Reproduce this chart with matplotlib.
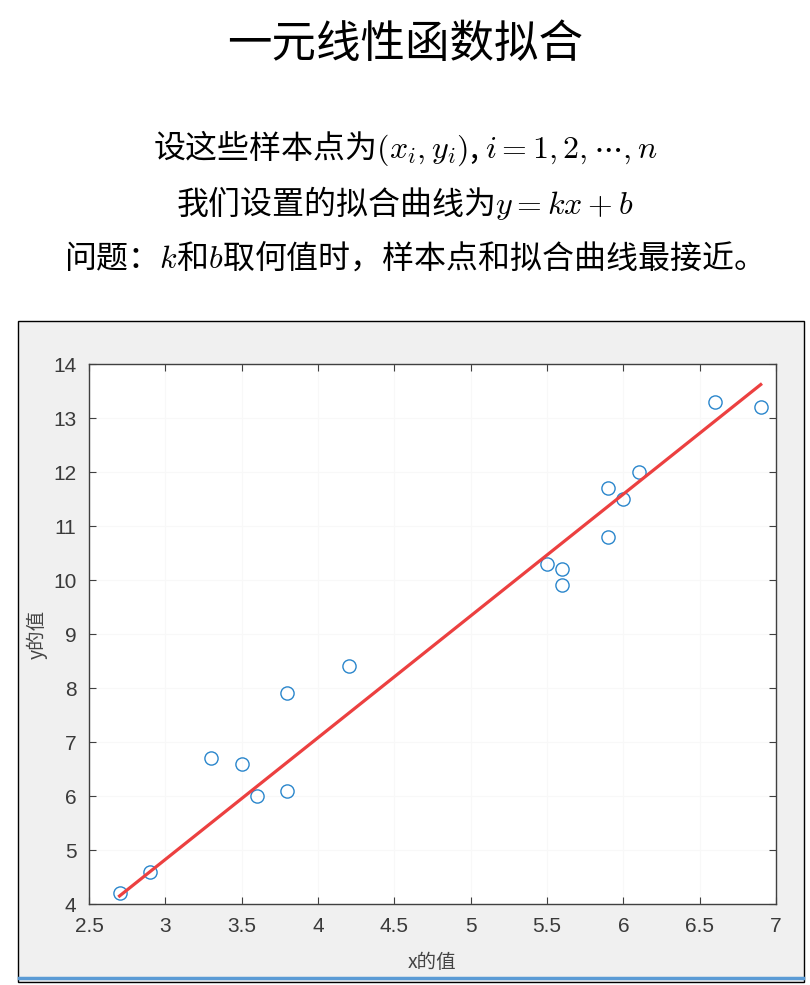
import numpy as np
import matplotlib.pyplot as plt
from matplotlib.patches import Rectangle
from matplotlib.lines import Line2D

plt.rcParams['font.family'] = ['Noto Sans CJK SC', 'DejaVu Sans']
plt.rcParams['mathtext.fontset'] = 'cm'

# 样本点
x = [2.7, 2.9, 3.3, 3.5, 3.6, 3.8, 3.8, 4.2, 5.5, 5.6, 5.6, 5.9, 5.9, 6.0, 6.1, 6.6, 6.9]
y = [4.2, 4.6, 6.7, 6.6, 6.0, 7.9, 6.1, 8.4, 10.3, 10.2, 9.9, 11.7, 10.8, 11.5, 12.0, 13.3, 13.2]
# 拟合直线 y = kx + b
k = 2.255
b = -1.94
xticks = [2.5, 3, 3.5, 4, 4.5, 5, 5.5, 6, 6.5, 7]
yticks = [4, 5, 6, 7, 8, 9, 10, 11, 12, 13, 14]

fig = plt.figure(figsize=(8.1, 9.85), dpi=100)

# 标题和说明文字
fig.text(0.5, 0.955, '一元线性函数拟合', ha='center', va='center', fontsize=32)
fig.text(0.5, 0.850, r'设这些样本点为$(x_i,y_i)$, $i=1,2,\cdots,n$',
         ha='center', va='center', fontsize=23)
fig.text(0.5, 0.794, r'我们设置的拟合曲线为$y=kx+b$',
         ha='center', va='center', fontsize=23)
fig.text(0.5, 0.739, r'问题：$k$和$b$取何值时，样本点和拟合曲线最接近。',
         ha='center', va='center', fontsize=23)

# 灰色的图窗背景
fig.patches.append(Rectangle((18/810, 1-982/985), 786/810, 661/985,
                             transform=fig.transFigure, facecolor='#f0f0f0',
                             edgecolor='black', lw=1.0, zorder=-2))
fig.lines.append(Line2D([19/810, 803/810], [1-978/985, 1-978/985],
                        transform=fig.transFigure, color='#5a9bd5', lw=2.5,
                        zorder=-1))

ax = fig.add_axes([89/810, 1-904/985, 687/810, 540/985])
ax.set_zorder(1)
ax.set_facecolor('white')

ax.plot(x, y, 'o', mfc='none', mec='#2a86cc', ms=9.5, mew=1.0, zorder=3)

xf = np.array([min(x), max(x)])
ax.plot(xf, k*xf + b, color='#ec4040', lw=2.3, zorder=4)

ax.set_xlim(2.5, 7)
ax.set_ylim(4, 14)
ax.set_xticks(xticks)
ax.set_xticklabels([f'{t:g}' for t in xticks], family='Liberation Sans')
ax.set_yticks(yticks)
ax.set_yticklabels([f'{t:g}' for t in yticks], family='Liberation Sans')
ax.grid(True, color='#f8f8f8', lw=0.8, zorder=0)
ax.set_axisbelow(True)

ax.tick_params(direction='in', top=True, right=True, length=5, width=0.8,
               labelsize=15, labelcolor='#3a3a3a', color='#404040', pad=9)
for s in ax.spines.values():
    s.set_color('#404040')
    s.set_linewidth(1.0)

ax.set_xlabel('x的值', fontsize=14, color='#444444', labelpad=12)
ax.set_ylabel('y的值', fontsize=14, color='#444444', labelpad=4)

plt.savefig('out.png', dpi=100)
